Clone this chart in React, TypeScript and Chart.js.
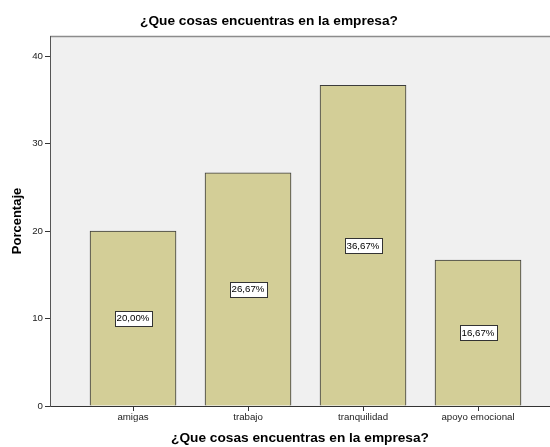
import React, { useEffect, useRef } from "react";
import { Chart, registerables } from "chart.js";

Chart.register(...registerables);

const chartTitle = "¿Que cosas encuentras en la empresa?";
const xAxisTitle = "¿Que cosas encuentras en la empresa?";
const yAxisTitle = "Porcentaje";
const categories = ["amigas", "trabajo", "tranquilidad", "apoyo emocional"];
const percentages = [20.0, 26.67, 36.67, 16.67];
const valueLabels = ["20,00%", "26,67%", "36,67%", "16,67%"];
const yTicks = [0, 10, 20, 30, 40];

const FONT = "'Liberation Sans', Arial, sans-serif";

const backgroundPlugin = {
  id: "plotBackground",
  beforeDraw(chart: any) {
    const { ctx, chartArea } = chart;
    ctx.save();
    ctx.fillStyle = "#ffffff";
    ctx.fillRect(0, 0, chart.width, chart.height);
    ctx.fillStyle = "#f0f0f0";
    ctx.fillRect(chartArea.left, chartArea.top, chartArea.right - chartArea.left, chartArea.bottom - chartArea.top);
    ctx.strokeStyle = "#8c8c8c";
    ctx.lineWidth = 1.5;
    ctx.beginPath();
    ctx.moveTo(chartArea.left, chartArea.top + 0.5);
    ctx.lineTo(chartArea.right, chartArea.top + 0.5);
    ctx.stroke();
    ctx.fillStyle = "#000000";
    ctx.font = `bold 13.7px ${FONT}`;
    ctx.textAlign = "center";
    ctx.textBaseline = "middle";
    ctx.fillText(chartTitle, 269, 21);
    ctx.restore();
  },
};

const labelPlugin = {
  id: "valueBoxes",
  afterDatasetsDraw(chart: any) {
    const { ctx } = chart;
    const meta = chart.getDatasetMeta(0);
    ctx.save();
    ctx.font = `9.7px ${FONT}`;
    ctx.textAlign = "center";
    ctx.textBaseline = "middle";
    meta.data.forEach((el: any, i: number) => {
      const p = el.getProps(["x", "y", "base"], true);
      const cx = p.x;
      const cy = (p.y + p.base) / 2;
      const text = valueLabels[i];
      const w = Math.round(ctx.measureText(text).width + 4);
      const h = 15;
      const x0 = Math.round(cx - w / 2) + 0.5;
      const y0 = Math.round(cy - h / 2) + 0.5;
      ctx.fillStyle = "#ffffff";
      ctx.fillRect(x0, y0, w, h);
      ctx.strokeStyle = "#333333";
      ctx.lineWidth = 1;
      ctx.strokeRect(x0, y0, w, h);
      ctx.fillStyle = "#000000";
      ctx.fillText(text, cx, cy + 0.5);
    });
    ctx.restore();
  },
};

export default function App() {
  const canvasRef = useRef<HTMLCanvasElement | null>(null);

  useEffect(() => {
    document.body.style.margin = "0";
    const canvas = canvasRef.current;
    if (!canvas) return;
    const chart = new Chart(canvas, {
      type: "bar",
      data: {
        datasets: [
          {
            data: percentages.map((v, i) => ({ x: i, y: v })),
            backgroundColor: "#d3ce97",
            borderColor: "#3c3c3c",
            borderWidth: 1,
            borderSkipped: "bottom",
            barThickness: 86,
          },
        ],
      },
      options: {
        animation: false,
        responsive: false,
        maintainAspectRatio: false,
        layout: { padding: { top: 36, left: 0, right: 0, bottom: 0 } },
        plugins: {
          legend: { display: false },
          tooltip: { enabled: false },
          title: { display: false },
        },
        scales: {
          x: {
            type: "linear",
            min: -0.722,
            max: 3.626,
            offset: false,
            afterFit: (s: any) => {
              s.height = 41;
            },
            afterBuildTicks: (s: any) => {
              s.ticks = categories.map((_, i) => ({ value: i }));
            },
            ticks: {
              autoSkip: false,
              maxRotation: 0,
              padding: 1,
              color: "#222222",
              font: { family: FONT, size: 9.7 },
              callback: (v: any) => categories[v] ?? "",
            },
            grid: {
              offset: false,
              drawOnChartArea: false,
              drawTicks: true,
              tickLength: 5,
              tickColor: "#333333",
            },
            border: { display: true, color: "#333333", width: 1 },
            title: {
              display: true,
              text: xAxisTitle,
              color: "#000000",
              font: { family: FONT, size: 13.7, weight: "bold", lineHeight: 1.2 },
              padding: { top: 0, bottom: 1 },
            },
          },
          y: {
            type: "linear",
            min: 0,
            max: 42.3,
            afterFit: (s: any) => {
              s.width = 50;
            },
            afterBuildTicks: (s: any) => {
              s.ticks = yTicks.map((v) => ({ value: v }));
            },
            ticks: {
              padding: 2,
              color: "#222222",
              font: { family: FONT, size: 9.7 },
            },
            grid: {
              drawOnChartArea: false,
              drawTicks: true,
              tickLength: 5,
              tickColor: "#333333",
            },
            border: { display: true, color: "#555555", width: 1 },
            title: {
              display: true,
              text: yAxisTitle,
              color: "#000000",
              font: { family: FONT, size: 13, weight: "bold", lineHeight: 1.2 },
              padding: { top: 10, bottom: 0 },
            },
          },
        },
      },
      plugins: [backgroundPlugin, labelPlugin],
    });
    return () => chart.destroy();
  }, []);

  return (
    <div style={{ position: "absolute", left: 0, top: 0, width: 550, height: 447 }}>
      <canvas ref={canvasRef} width={550} height={447} />
    </div>
  );
}
